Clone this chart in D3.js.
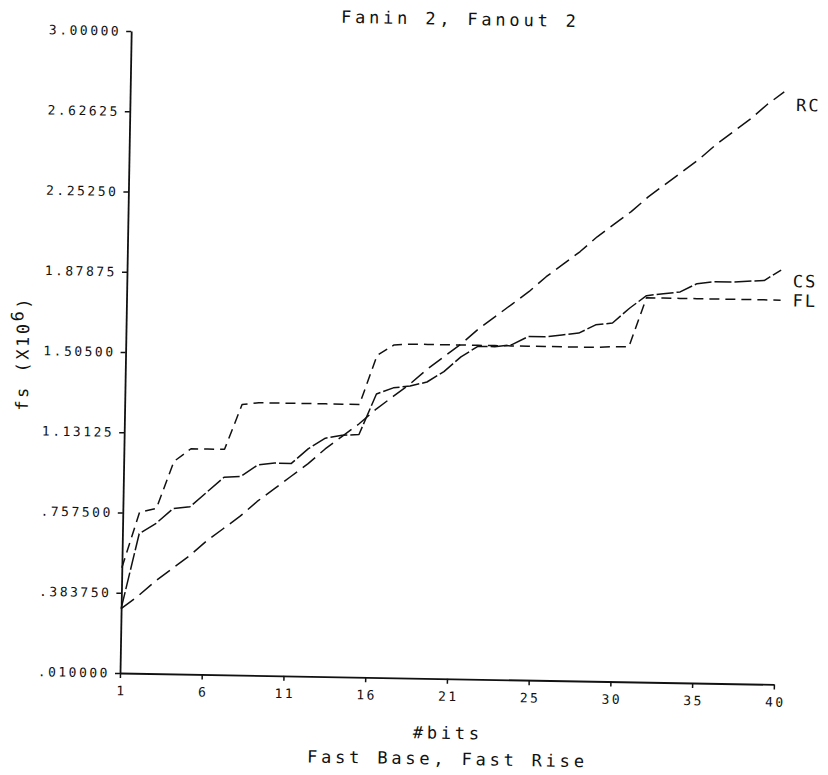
<!DOCTYPE html>
<html>
<head>
<meta charset="utf-8">
<script src="https://cdn.jsdelivr.net/npm/d3@7"></script>
<style>
  html, body { margin: 0; padding: 0; background: #fff; }
  svg { display: block; }
</style>
</head>
<body>
<svg id="chart" width="828" height="775"></svg>
<script>
// Number of bits (x categories)
const bits = [1, 2, 3, 4, 5, 6, 7, 8, 9, 10,
              11, 12, 13, 14, 15, 16, 17, 18, 19, 20,
              21, 22, 23, 24, 25, 26, 27, 28, 29, 30,
              31, 32, 33, 34, 35, 36, 37, 38, 39, 40];

// fs (x10^6) per logic family
const rcValues = [0.31, 0.37, 0.44, 0.50, 0.56, 0.63, 0.69, 0.75, 0.82, 0.88,
                  0.94, 1.00, 1.07, 1.13, 1.19, 1.26, 1.32, 1.38, 1.45, 1.51,
                  1.57, 1.64, 1.70, 1.76, 1.82, 1.89, 1.95, 2.01, 2.08, 2.14,
                  2.20, 2.27, 2.33, 2.39, 2.45, 2.52, 2.58, 2.64, 2.71, 2.77];

const csValues = [0.31, 0.66, 0.71, 0.78, 0.79, 0.86, 0.93, 0.935, 0.99, 1.00,
                  1.00, 1.07, 1.12, 1.135, 1.14, 1.33, 1.36, 1.37, 1.39, 1.44,
                  1.51, 1.56, 1.56, 1.57, 1.61, 1.61, 1.62, 1.63, 1.67, 1.68,
                  1.75, 1.81, 1.82, 1.83, 1.87, 1.88, 1.88, 1.885, 1.89, 1.94];

const flValues = [0.50, 0.76, 0.78, 1.00, 1.06, 1.06, 1.06, 1.27, 1.28, 1.28,
                  1.28, 1.28, 1.28, 1.28, 1.28, 1.51, 1.56, 1.565, 1.565, 1.565,
                  1.565, 1.565, 1.565, 1.565, 1.565, 1.565, 1.565, 1.565, 1.565, 1.57,
                  1.57, 1.80, 1.80, 1.80, 1.80, 1.80, 1.80, 1.80, 1.80, 1.80];

const seriesNames = ["RC", "CS", "FL"];

// Axis ticks
const yTickValues = [0.01, 0.38375, 0.7575, 1.13125, 1.505, 1.87875, 2.2525, 2.62625, 3.0];
const yTickLabels = [".010000", ".383750", ".757500", "1.13125", "1.50500", "1.87875", "2.25250", "2.62625", "3.00000"];
const xTickValues = [1, 5.875, 10.75, 15.625, 20.5, 25.375, 30.25, 35.125, 40];
const xTickLabels = ["1", "6", "11", "16", "21", "25", "30", "35", "40"];

const titleText = "Fanin 2, Fanout 2";
const xTitle = "#bits";
const xSubtitle = "Fast Base, Fast Rise";

// ---- drawing ----
const FONT = "'DejaVu Sans Mono', monospace";
const INK = "#111";
const plot = { left: 120, right: 774, top: 31, bottom: 673 };

const x = d3.scaleLinear().domain([1, 40]).range([plot.left, plot.right]);
const y = d3.scaleLinear().domain([0.01, 3.0]).range([plot.bottom, plot.top]);

const svg = d3.select("#chart");
// whole sheet sits at a slight clockwise tilt
const g = svg.append("g").attr("transform", `rotate(1, ${plot.left}, ${plot.bottom})`);

function styleAxis(sel) {
  sel.attr("font-family", FONT).attr("font-size", 13);
  sel.select(".domain").attr("stroke", INK).attr("stroke-width", 1.8);
  sel.selectAll(".tick line").attr("stroke", INK).attr("stroke-width", 1.5);
  sel.selectAll(".tick text").attr("fill", INK).attr("letter-spacing", 2.5);
}

const yAxis = d3.axisLeft(y)
  .tickValues(yTickValues)
  .tickFormat((d, i) => yTickLabels[i])
  .tickSize(5).tickSizeOuter(0).tickPadding(5);

g.append("g")
  .attr("transform", `translate(${plot.left},0)`)
  .call(yAxis)
  .call(styleAxis);

const xAxis = d3.axisBottom(x)
  .tickValues(xTickValues)
  .tickFormat((d, i) => xTickLabels[i])
  .tickSize(5).tickSizeOuter(0).tickPadding(8);

g.append("g")
  .attr("transform", `translate(0,${plot.bottom})`)
  .call(xAxis)
  .call(styleAxis)
  .call(a => a.selectAll(".tick text").attr("dx", 1.25));

// series lines
const series = [
  { name: seriesNames[0], values: rcValues, dash: "16,7" },
  { name: seriesNames[1], values: csValues, dash: "17,3" },
  { name: seriesNames[2], values: flValues, dash: "10,6" }
];

const line = d3.line()
  .x((d, i) => x(bits[i]))
  .y(d => y(d));

g.append("g").selectAll("path")
  .data(series)
  .join("path")
  .attr("d", d => line(d.values))
  .attr("fill", "none")
  .attr("stroke", INK)
  .attr("stroke-width", 1.5)
  .attr("stroke-dasharray", d => d.dash)
  .attr("stroke-linejoin", "round");

// series names at the right end
g.append("g").selectAll("text")
  .data(series)
  .join("text")
  .attr("x", x(40) + 12)
  .attr("y", d => y(d.values[d.values.length - 2]))
  .attr("dy", "0.36em")
  .attr("font-family", FONT)
  .attr("font-size", 17)
  .attr("letter-spacing", 2)
  .attr("fill", INK)
  .text(d => d.name);

// title
g.append("text")
  .attr("x", (plot.left + plot.right) / 2 + 1.9)
  .attr("y", 13)
  .attr("dy", "0.36em")
  .attr("text-anchor", "middle")
  .attr("font-family", FONT)
  .attr("font-size", 17)
  .attr("letter-spacing", 3.8)
  .attr("fill", INK)
  .text(titleText);

// x titles
g.append("text")
  .attr("x", (plot.left + plot.right) / 2 + 1.9)
  .attr("y", 727)
  .attr("dy", "0.36em")
  .attr("text-anchor", "middle")
  .attr("font-family", FONT)
  .attr("font-size", 17)
  .attr("letter-spacing", 3.8)
  .attr("fill", INK)
  .text(xTitle);

g.append("text")
  .attr("x", (plot.left + plot.right) / 2 + 1.9)
  .attr("y", 753)
  .attr("dy", "0.36em")
  .attr("text-anchor", "middle")
  .attr("font-family", FONT)
  .attr("font-size", 17)
  .attr("letter-spacing", 3.8)
  .attr("fill", INK)
  .text(xSubtitle);

// y title with superscript exponent
const yt = g.append("text")
  .attr("transform", `translate(17, ${(plot.top + plot.bottom) / 2 + 3}) rotate(-90)`)
  .attr("text-anchor", "middle")
  .attr("dy", "0.36em")
  .attr("font-family", FONT)
  .attr("font-size", 17)
  .attr("letter-spacing", 2.5)
  .attr("fill", INK);
yt.append("tspan").text("fs (X10");
yt.append("tspan").attr("dy", "-0.35em").text("6");
yt.append("tspan").attr("dy", "0.35em").text(")");
</script>
</body>
</html>
